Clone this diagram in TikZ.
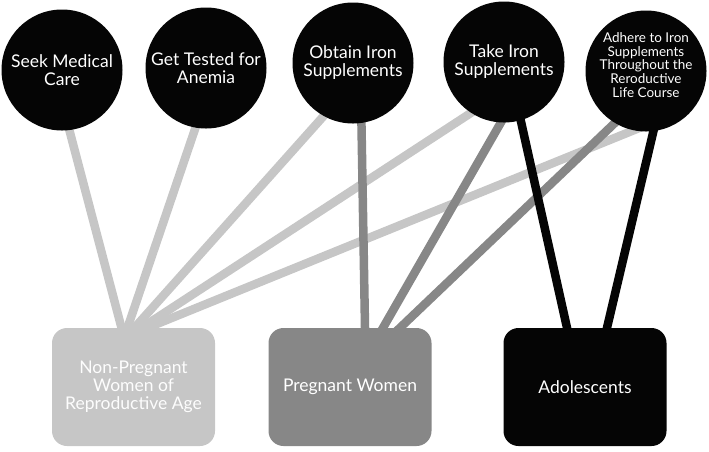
\documentclass[tikz,border=0pt]{standalone}
\usepackage{fontspec}
\setmainfont{Lato}
\usetikzlibrary{backgrounds}
\definecolor{lightg}{HTML}{C6C6C6}
\definecolor{midg}{HTML}{878787}
\definecolor{darkk}{HTML}{050505}
\begin{document}
\begin{tikzpicture}[x=1pt,y=-1pt,
  act/.style={circle,fill=darkk,minimum size=121pt,inner sep=0pt,text=white,align=center,font=\fontsize{17.5}{18}\selectfont},
  smalltext/.style={text=white,align=center,inner sep=0pt,font=\fontsize{13.5}{13.6}\selectfont},
  grp/.style={rounded corners=15pt,minimum width=163pt,minimum height=118pt,inner sep=0pt,text=white,align=center,font=\fontsize{17.5}{18}\selectfont},
  link/.style={line width=8.5pt,shorten <=-12pt,shorten >=-6pt},
  llink/.style={link,draw=lightg},
  mlink/.style={link,draw=midg},
  dlink/.style={link,draw=darkk}]
\useasboundingbox (0,0) rectangle (709,451);
\node[act] (c1) at (62,70) {Seek Medical\\Care};
\node[act] (c2) at (206,68) {Get Tested for\\Anemia};
\node[act] (c3) at (353,63) {Obtain Iron\\Supplements};
\node[act] (c4) at (504,62) {Take Iron\\Supplements};
\node[act,label={[smalltext,yshift=6pt]center:Adhere to Iron\\Supplements\\Throughout the\\Reroductive\\Life Course}] (c5) at (646,71) {};
\node[grp,fill=lightg,text=white!96!lightg] (b1) at (133.5,387) {Non-Pregnant\\Women of\\Reproductive Age};
\node[grp,fill=midg] (b2) at (350,387) {Pregnant Women};
\node[grp,fill=darkk] (b3) at (585,387) {Adolescents};
\begin{pgfonlayer}{background}
\draw[llink] (c1.-83.6) -- ([xshift=-12pt]b1.north);
\draw[llink] (c2.-100.9) -- ([xshift=-6pt]b1.north);
\draw[llink] (c3.-119.7) -- ([xshift=1pt]b1.north);
\draw[llink] (c4.-123.7) -- ([xshift=8pt]b1.north);
\draw[llink] (c5.-102.8) -- ([xshift=14pt]b1.north);
\draw[mlink] (c3.-82.3) -- ([xshift=15pt]b2.north);
\draw[mlink] (c4.-93.8) -- ([xshift=33pt]b2.north);
\draw[mlink] (c5.-121.3) -- ([xshift=50pt]b2.north);
\draw[dlink] (c4.-74.6) -- ([xshift=-18pt]b3.north);
\draw[dlink] (c5.-83.9) -- ([xshift=22pt]b3.north);
\end{pgfonlayer}
\end{tikzpicture}
\end{document}
